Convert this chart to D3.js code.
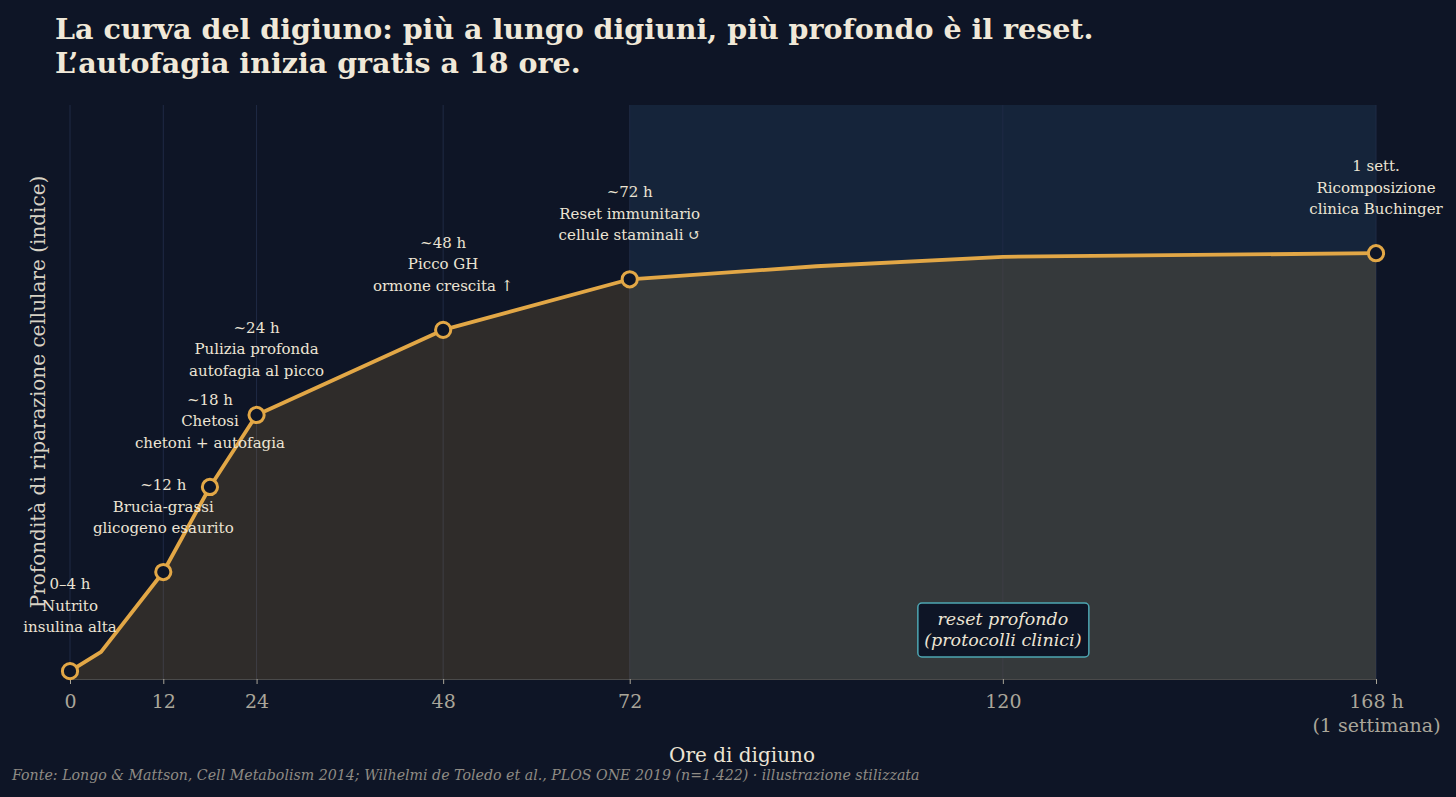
<!DOCTYPE html>
<html>
<head>
<meta charset="utf-8">
<script src="https://cdn.jsdelivr.net/npm/d3@7"></script>
<style>
  html, body { margin: 0; padding: 0; background: #0e1526; }
  svg { display: block; font-family: "DejaVu Serif", serif; }
</style>
</head>
<body>
<svg id="chart" width="1456" height="797"></svg>
<script>
// data
const hours = [0, 4, 12, 18, 24, 48, 72, 96, 120, 168];
const depth = [1.5, 5.2, 20.5, 36.8, 50.6, 66.9, 76.6, 79.1, 80.9, 81.6];

// annotated milestones
const milestoneHours = [0, 12, 18, 24, 48, 72, 168];
const milestoneLabels = [
  ["0–4 h", "Nutrito", "insulina alta"],
  ["~12 h", "Brucia-grassi", "glicogeno esaurito"],
  ["~18 h", "Chetosi", "chetoni + autofagia"],
  ["~24 h", "Pulizia profonda", "autofagia al picco"],
  ["~48 h", "Picco GH", "ormone crescita ↑"],
  ["~72 h", "Reset immunitario", "cellule staminali ↺"],
  ["1 sett.", "Ricomposizione", "clinica Buchinger"]
];

const tickValues = [0, 12, 24, 48, 72, 120, 168];
const tickLabels = ["0", "12", "24", "48", "72", "120", "168 h\n(1 settimana)"];
const spanRange = [72, 168];

const svg = d3.select("#chart");
const W = 1456, H = 797;
const margin = { left: 70, right: 80, top: 105, bottom: 118 };

const x = d3.scaleLinear().domain([0, 168]).range([margin.left, W - margin.right]);
const y = d3.scaleLinear().domain([0, 110]).range([H - margin.bottom, margin.top]);

const gold = "#e2a746";
const light = "#ece4d4";

// shaded deep-reset span
svg.append("rect")
  .attr("x", x(spanRange[0]))
  .attr("y", y(110))
  .attr("width", x(spanRange[1]) - x(spanRange[0]))
  .attr("height", y(0) - y(110))
  .attr("fill", "#15243a");

// vertical grid
svg.append("g")
  .selectAll("line")
  .data(tickValues)
  .enter()
  .append("line")
  .attr("x1", d => x(d)).attr("x2", d => x(d))
  .attr("y1", y(110)).attr("y2", y(0))
  .attr("stroke", "#1f2a45")
  .attr("stroke-width", 1);

// area under the curve
const pts = hours.map((h, i) => [h, depth[i]]);
svg.append("path")
  .datum(pts)
  .attr("fill", gold)
  .attr("fill-opacity", 0.16)
  .attr("d", d3.area().x(d => x(d[0])).y0(y(0)).y1(d => y(d[1])));

// bottom axis
const xAxis = d3.axisBottom(x)
  .tickValues(tickValues)
  .tickSize(5)
  .tickFormat("");
const axG = svg.append("g")
  .attr("transform", `translate(0,${y(0)})`)
  .call(xAxis);
axG.attr("font-family", null).attr("font-size", null);
axG.select(".domain").attr("stroke", "#4a4a4a").attr("stroke-width", 1)
  .attr("d", `M${x(0)},0.5H${x(168)}`);
axG.selectAll(".tick line").attr("stroke", "#a8a497");

axG.selectAll(".tick")
  .append("text")
  .attr("fill", "#aaa69a")
  .attr("font-family", "DejaVu Serif")
  .attr("font-size", 19)
  .attr("text-anchor", "middle")
  .attr("y", 29)
  .each(function (d, i) {
    const lines = tickLabels[i].split("\n");
    d3.select(this).selectAll("tspan")
      .data(lines)
      .enter()
      .append("tspan")
      .attr("x", 0)
      .attr("dy", (l, j) => j === 0 ? 0 : 23.5)
      .text(l => l);
  });

// the curve
svg.append("path")
  .datum(pts)
  .attr("fill", "none")
  .attr("stroke", gold)
  .attr("stroke-width", 3.8)
  .attr("stroke-linejoin", "round")
  .attr("d", d3.line().x(d => x(d[0])).y(d => y(d[1])));

// markers
const milestones = milestoneHours.map((h, i) => ({
  h: h,
  v: depth[hours.indexOf(h)],
  lines: milestoneLabels[i]
}));

svg.append("g")
  .selectAll("circle")
  .data(milestones)
  .enter()
  .append("circle")
  .attr("cx", d => x(d.h))
  .attr("cy", d => y(d.v))
  .attr("r", 7.6)
  .attr("fill", "#0e1526")
  .attr("stroke", gold)
  .attr("stroke-width", 3);

// milestone labels
svg.append("g")
  .selectAll("text")
  .data(milestones)
  .enter()
  .append("text")
  .attr("fill", light)
  .attr("font-size", 15)
  .attr("text-anchor", "middle")
  .each(function (d) {
    const base = y(d.v) - 44 + 5;
    d3.select(this).selectAll("tspan")
      .data(d.lines)
      .enter()
      .append("tspan")
      .attr("x", x(d.h))
      .attr("y", (l, j) => base - (d.lines.length - 1 - j) * 21.5)
      .text(l => l);
  });

// reset box
const boxCx = x(120), boxCy = 630;
svg.append("rect")
  .attr("x", boxCx - 85).attr("y", boxCy - 27)
  .attr("width", 171).attr("height", 54)
  .attr("rx", 4)
  .attr("fill", "#0e1526")
  .attr("stroke", "#4ea6b3")
  .attr("stroke-width", 1.5);
svg.append("text")
  .attr("fill", light)
  .attr("font-size", 17.5)
  .attr("font-style", "italic")
  .attr("text-anchor", "middle")
  .selectAll("tspan")
  .data(["reset profondo", "(protocolli clinici)"])
  .enter()
  .append("tspan")
  .attr("x", boxCx)
  .attr("y", (d, i) => boxCy - 5 + i * 21)
  .text(d => d);

// title
svg.append("text")
  .attr("fill", "#f0e8d8")
  .attr("font-size", 28.5)
  .attr("font-weight", "bold")
  .selectAll("tspan")
  .data(["La curva del digiuno: più a lungo digiuni, più profondo è il reset.",
         "L’autofagia inizia gratis a 18 ore."])
  .enter()
  .append("tspan")
  .attr("x", 55)
  .attr("y", (d, i) => 39 + i * 34)
  .text(d => d);

// axis titles
svg.append("text")
  .attr("fill", light)
  .attr("font-size", 20)
  .attr("text-anchor", "middle")
  .attr("x", 742)
  .attr("y", 762)
  .text("Ore di digiuno");

svg.append("text")
  .attr("fill", "#d8d2c4")
  .attr("font-size", 20)
  .attr("text-anchor", "middle")
  .attr("transform", `translate(45,${(y(0) + y(110)) / 2}) rotate(-90)`)
  .text("Profondità di riparazione cellulare (indice)");

// source
svg.append("text")
  .attr("fill", "#8f8b84")
  .attr("font-size", 14.2)
  .attr("font-style", "italic")
  .attr("x", 12)
  .attr("y", 780)
  .text("Fonte: Longo & Mattson, Cell Metabolism 2014; Wilhelmi de Toledo et al., PLOS ONE 2019 (n=1.422) · illustrazione stilizzata");
</script>
</body>
</html>
